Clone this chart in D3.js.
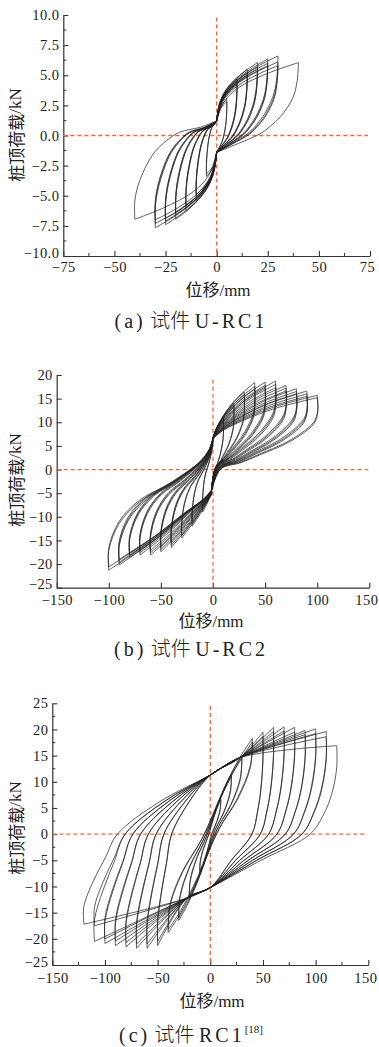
<!DOCTYPE html>
<html><head><meta charset="utf-8">
<script src="https://cdn.jsdelivr.net/npm/d3@7"></script>
<style>
html,body{margin:0;padding:0;background:#fff;}
svg{display:block;}
.serif{font-family:"Liberation Serif","Times New Roman","DejaVu Serif",serif;}
.cjk{font-family:"Noto Sans CJK SC","Noto Sans CJK JP",sans-serif;}
</style></head><body>
<svg id="chart" width="379" height="1047"></svg>
<script>
// ---------------- DATA ----------------
// (a) U-RC1 : displacement amplitude of each cycle (mm) and peak loads (kN)
const aDisp    = [5, 5, 10, 10, 10, 15, 15, 15, 20, 20, 20, 25, 25, 25, 30, 30, 30, 40];
const aPeakPos = [3.0, 2.8, 4.7, 4.4, 4.2, 5.5, 5.2, 5.0, 6.05, 5.7, 5.5, 6.35, 6.0, 5.8, 6.6, 6.1, 5.8, 6.05];
const aPeakNeg = [-3.4, -3.2, -5.4, -5.1, -4.9, -6.3, -6.0, -5.8, -6.95, -6.6, -6.4, -7.4, -7.1, -6.9, -7.65, -7.3, -7.0, -6.95];
const aPinch   = [1.2, -1.4];                       // loads where the loops pass zero displacement
const aLoadX   = [0, 0.1, 0.3, 0.65, 1];             // loading-branch shape (fraction of amplitude / of load rise)
const aLoadF   = [0, 0.35, 0.6, 0.83, 1];
const aUnPosX  = [1, 0.985, 0.935, 0.81, 0.69, 0.53, 0.25, 0];
const aUnPosF  = [1, 0.8, 0.615, 0.43, 0.318, 0.207, 0.094, 0];
const aUnNegX  = [1, 1, 0.94, 0.775, 0.61, 0.45, 0.2, 0];
const aUnNegF  = [1, 0.81, 0.605, 0.334, 0.197, 0.113, 0.063, 0];
const aXTicks  = [-75, -50, -25, 0, 25, 50, 75];
const aYTicks  = [-10, -7.5, -5, -2.5, 0, 2.5, 5, 7.5, 10];

// (b) U-RC2
const bDisp    = [10, 10, 20, 20, 30, 30, 40, 40, 40, 50, 50, 50, 60, 60, 60, 70, 70, 70, 80, 80, 80, 90, 90, 90, 100, 100];
const bPeakPos = [11, 10.5, 14, 13.5, 16.4, 15.8, 18.4, 17.6, 17.0, 18.5, 17.8, 17.2, 18.7, 18.0, 17.3, 17.8, 17.2, 16.6, 17.1, 16.5, 16.0, 16.6, 16.0, 15.5, 15.7, 15.2];
const bPeakNeg = [-9, -8.5, -12, -11.5, -14.5, -14, -16.5, -16, -15.5, -17.4, -16.9, -16.4, -18.1, -17.6, -17.1, -18.1, -17.6, -17.2, -18.6, -18.1, -17.7, -20.2, -19.6, -19.0, -21.3, -20.6];
const bPinchPos = [0, 6.6];
const bPinchNeg = [-1.5, -4.5];
const bLoadX   = [0, 0.1, 0.3, 0.6, 1];
const bLoadPosF = [0, 0.2, 0.45, 0.74, 1];
const bLoadNegF = [0, 0.12, 0.32, 0.64, 1];
const bUnPosX  = [1, 1.005, 0.97, 0.84, 0.68, 0.46, 0.27, 0.075];
const bUnPosF  = [1, 0.842, 0.723, 0.599, 0.495, 0.391, 0.302, 0.233];
const bUnNegX  = [1, 1, 0.9, 0.71, 0.455, 0.26, 0.135, 0.04];
const bUnNegF  = [1, 0.85, 0.645, 0.484, 0.369, 0.267, 0.19, 0.093];
const bXTicks  = [-150, -100, -50, 0, 50, 100, 150];
const bYTicks  = [-25, -20, -15, -10, -5, 0, 5, 10, 15, 20];

// (c) RC1
const cDisp    = [10, 10, 20, 20, 30, 30, 40, 40, 50, 50, 60, 60, 70, 70, 80, 80, 90, 90, 100, 100, 110, 110, 120];
const cPeakPos = [7, 6.5, 11.5, 11, 15, 14.5, 18.3, 17.6, 19.5, 18.7, 20.4, 19.6, 20.5, 19.7, 20.4, 19.5, 19.8, 19.0, 20.1, 19.2, 19.6, 18.6, 16.9];
const cPeakNeg = [-7.5, -7, -12.5, -12, -16.5, -16, -18.8, -18.2, -21.3, -20.5, -21.8, -21.0, -21.8, -21.0, -21.5, -20.7, -21.3, -20.4, -20.9, -20.0, -20.5, -17.5, -17.2];
// wide loops: points as [fraction of amplitude, offset mm, fraction of peak load, offset kN]
const cUp   = [[-1,0,1,0], [-1,0,0.8,0], [-0.925,0,0.52,0], [-0.83,0,0.26,0], [-0.735,0,0,0], [-0.4,0,0,6.2], [0,0,0,11.3], [0,28,0,14.6]];
const cDown = [[1,0,1,0], [1,0,0.75,0], [0.96,0,0.45,0], [0.897,0,0.225,0], [0.79,0,0,0], [0.4,0,0,-5.0], [0,0,0,-10.2], [0,-22,0,-12.2]];
// narrow loops (small amplitudes): [fraction of amplitude, fraction of own-side peak]
const cSmall      = [[1,1], [0.95,0.72], [0.65,0.38], [0.2,0.05]];
const cSmallCross = [[-0.3,0.45], [-0.7,0.8], [-1,1]];
const cXTicks  = [-150, -100, -50, 0, 50, 100, 150];
const cYTicks  = [-25, -20, -15, -10, -5, 0, 5, 10, 15, 20, 25];

// ---------------- LOOP BUILDERS ----------------
function loopsA(){
  const out=[]; const [pp,pn]=aPinch;
  aDisp.forEach((D,i)=>{
    const P=aPeakPos[i], N=aPeakNeg[i];
    out.push(aLoadX.map((s,k)=>[s*D, pp+aLoadF[k]*(P-pp)]));
    out.push(aUnPosX.map((s,k)=>[s*D, pn+aUnPosF[k]*(P-pn)]));
    out.push(aLoadX.map((s,k)=>[-s*D, pn+aLoadF[k]*(N-pn)]));
    out.push(aUnNegX.map((s,k)=>[-s*D, pp+aUnNegF[k]*(N-pp)]));
  });
  return out;
}
function loopsB(){
  const out=[];
  bDisp.forEach((D,i)=>{
    const P=bPeakPos[i], N=bPeakNeg[i];
    const p=bPinchPos, n=bPinchNeg;
    out.push(bLoadX.map((s,k)=>[k===0?p[0]:s*D, p[1]+bLoadPosF[k]*(P-p[1])]));
    out.push(bUnPosX.map((s,k)=>[s*D, n[1]+bUnPosF[k]*(P-n[1])]).concat([n]));
    out.push(bLoadX.map((s,k)=>[k===0?n[0]:-s*D, n[1]+bLoadNegF[k]*(N-n[1])]));
    out.push(bUnNegX.map((s,k)=>[-s*D, p[1]+bUnNegF[k]*(N-p[1])]).concat([p]));
  });
  return out;
}
function loopsC(){
  const out=[];
  cDisp.forEach((D,i)=>{
    const P=cPeakPos[i], N=cPeakNeg[i];
    if(D>=50){
      out.push(cUp.map(q=>[q[0]*D+q[1], q[2]*N+q[3]]).concat([[D,P]]));
      out.push(cDown.map(q=>[q[0]*D+q[1], q[2]*P+q[3]]).concat([[-D,N]]));
    } else {
      out.push(cSmall.map(q=>[-q[0]*D, q[1]*N]).concat(cSmallCross.map(q=>[-q[0]*D, q[1]*P])));
      out.push(cSmall.map(q=>[q[0]*D, q[1]*P]).concat(cSmallCross.map(q=>[q[0]*D, q[1]*N])));
    }
  });
  return out;
}

// ---------------- DRAW ----------------
const svg=d3.select("#chart");
const DASH='#ef6744';
const TICKFS=14.5;

const panels=[
 {x:[-75,75], xr:[63.3,370], y:[-10,10], yr:[256,15], xt:aXTicks, yt:aYTicks, xm:12.5, ym:1.25,
  yfmt:d3.format(".1f"), loops:loopsA(), vTop:9.8, hEnd:74, xBase:15.5, ytx:15, yty:135, xtx:218, xty:295.5,
  cap:["(a)","U-RC1",""], capY:328},
 {x:[-150,150], xr:[56.7,369.3], y:[-25,20], yr:[587.7,375], xt:bXTicks, yt:bYTicks, xm:0, ym:0,
  yfmt:d3.format("d"), loops:loopsB(), vTop:19, hEnd:149, xBase:17.5, ytx:15, yty:480, xtx:211, xty:626.5,
  cap:["(b)","U-RC2",""], capY:656},
 {x:[-150,150], xr:[52.3,368.3], y:[-25,25], yr:[965,703.3], xt:cXTicks, yt:cYTicks, xm:25, ym:2.5,
  yfmt:d3.format("d"), loops:loopsC(), vTop:24.5, hEnd:148, xBase:17.5, ytx:15, yty:828, xtx:212, xty:1006.5,
  cap:["(c)","RC1","[18]"], capY:1042}
];

panels.forEach(p=>{
  const x=d3.scaleLinear().domain(p.x).range(p.xr);
  const y=d3.scaleLinear().domain(p.y).range(p.yr);
  const g=svg.append("g");

  // minor ticks
  if(p.xm){
    const mt=d3.range(p.x[0],p.x[1]+1e-9,p.xm).filter(v=>!p.xt.includes(v));
    g.append("g").selectAll("line").data(mt).join("line")
      .attr("x1",d=>x(d)).attr("x2",d=>x(d)).attr("y1",p.yr[0]).attr("y2",p.yr[0]-3)
      .attr("stroke","#333").attr("stroke-width",1);
  }
  if(p.ym){
    const mt=d3.range(p.y[0],p.y[1]+1e-9,p.ym).filter(v=>!p.yt.includes(v));
    g.append("g").selectAll("line").data(mt).join("line")
      .attr("y1",d=>y(d)).attr("y2",d=>y(d)).attr("x1",p.xr[0]).attr("x2",p.xr[0]+3)
      .attr("stroke","#333").attr("stroke-width",1);
  }

  const xa=g.append("g").attr("transform",`translate(0,${p.yr[0]})`)
    .call(d3.axisBottom(x).tickValues(p.xt).tickFormat(d3.format("d")).tickSizeInner(-5).tickSizeOuter(0));
  const ya=g.append("g").attr("transform",`translate(${p.xr[0]},0)`)
    .call(d3.axisLeft(y).tickValues(p.yt).tickFormat(p.yfmt).tickSizeInner(-5).tickSizeOuter(0).tickPadding(4));
  [xa,ya].forEach(a=>{
    a.attr("font-family",null).attr("font-size",null);
    a.select(".domain").attr("stroke","#333").attr("stroke-width",1.2);
    a.selectAll(".tick line").attr("stroke","#333").attr("stroke-width",1.1);
    a.selectAll("text").attr("class","serif").style("font-size",TICKFS+"px").attr("letter-spacing",0.4).attr("fill","#222");
  });
  xa.selectAll("text").attr("y",p.xBase).attr("dy",null);
  // keep the outermost right label inside the page
  xa.selectAll(".tick").filter(d=>d===p.x[1]).select("text").attr("dx",-3);
  // lift the lowest y label a little so it clears the first x label
  ya.selectAll(".tick").filter(d=>d===p.y[0]).select("text").attr("dy","0.08em");

  // reference dashed lines
  g.append("line").attr("x1",x(0)).attr("x2",x(0)).attr("y1",y(p.vTop)).attr("y2",p.yr[0])
    .attr("stroke",DASH).attr("stroke-width",1.3).attr("stroke-dasharray","4,3");
  g.append("line").attr("x1",p.xr[0]).attr("x2",x(p.hEnd)).attr("y1",y(0)).attr("y2",y(0))
    .attr("stroke",DASH).attr("stroke-width",1.3).attr("stroke-dasharray","4,3");

  // hysteresis loops
  const line=d3.line().x(d=>x(d[0])).y(d=>y(d[1])).curve(d3.curveCatmullRom.alpha(0.5));
  g.append("g").selectAll("path").data(p.loops).join("path")
    .attr("d",line).attr("fill","none").attr("stroke","#222").attr("stroke-width",0.8).attr("stroke-opacity",0.9);

  // axis titles
  const yt=g.append("text").attr("transform",`translate(${p.ytx},${p.yty}) rotate(-90)`)
    .attr("text-anchor","middle").attr("dominant-baseline","central").style("font-size","17px").attr("fill","#222");
  yt.append("tspan").attr("class","cjk").text("桩顶荷载");
  yt.append("tspan").attr("class","serif").text("/kN");
  const xt=g.append("text").attr("x",p.xtx).attr("y",p.xty).attr("text-anchor","middle").style("font-size","17px").attr("fill","#222");
  xt.append("tspan").attr("class","cjk").text("位移");
  xt.append("tspan").attr("class","serif").text("/mm");

  // caption
  const c=g.append("text").attr("x",191).attr("y",p.capY).attr("text-anchor","middle").style("font-size","20px").attr("fill","#222");
  c.append("tspan").attr("class","serif").attr("letter-spacing",3).text(p.cap[0]);
  c.append("tspan").attr("class","cjk").attr("font-weight",300).text(" 试件 ");
  c.append("tspan").attr("class","serif").attr("letter-spacing",3).text(p.cap[1]);
  if(p.cap[2]) c.append("tspan").attr("class","serif").style("font-size","11px").attr("dy",-9).text(p.cap[2]);
});
</script>
</body></html>
